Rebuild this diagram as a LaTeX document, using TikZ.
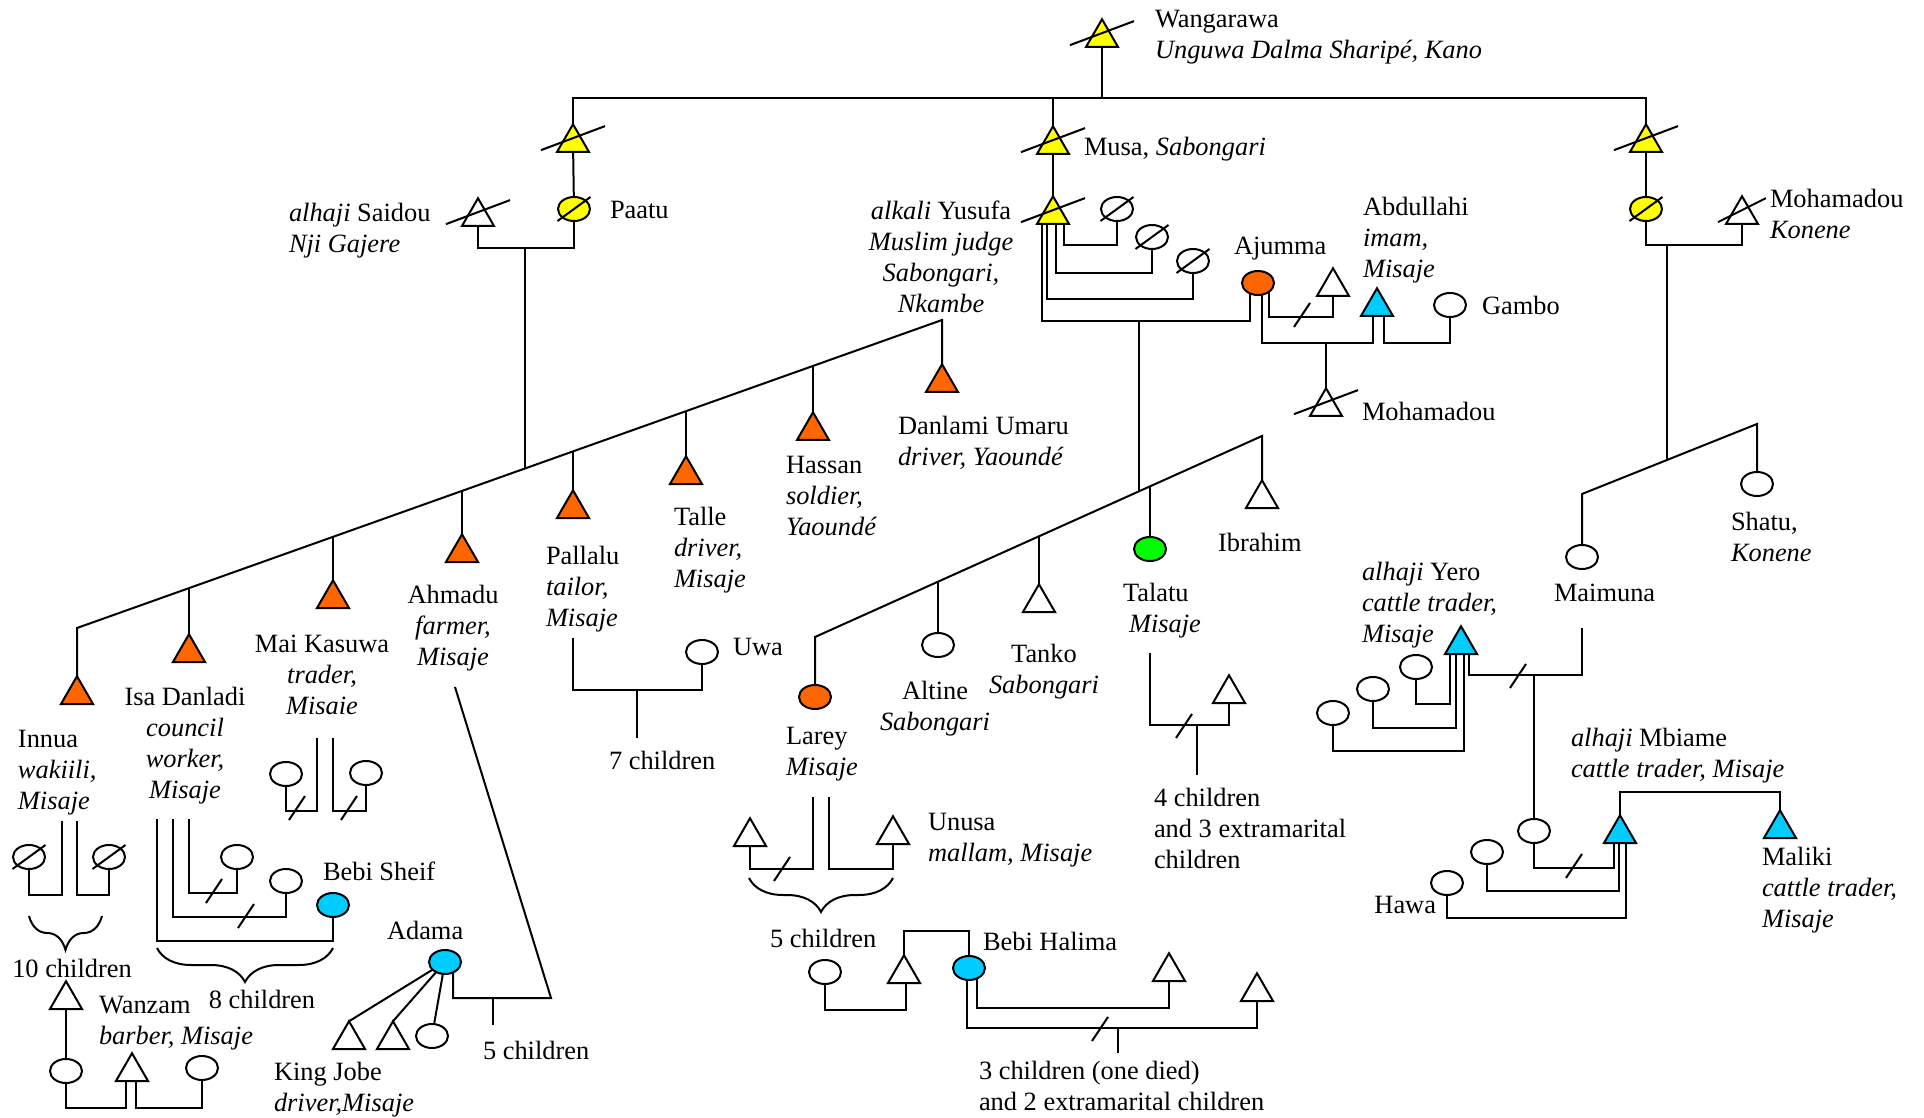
\documentclass[tikz,border=0pt]{standalone}
\usepackage{fontspec}
\setmainfont{Liberation Serif}
\usetikzlibrary{shapes.geometric,calc,backgrounds,decorations.pathreplacing}
\definecolor{yel}{HTML}{FFFF00}
\definecolor{org}{HTML}{FF6600}
\definecolor{blu}{HTML}{00CCFF}
\definecolor{grn}{HTML}{00FF00}
\newcommand{\dtri}[2][32]{\draw ($(#2.corner 1)!0.5!(#2.side 2)$) ++(-#1,12) -- ++(2*#1,-24);}
\newcommand{\dell}[1]{\draw (#1.center) ++(-16.5,12) -- ++(33,-24);}
\newcommand{\dvm}[1]{\draw (#1) ++(-8,12) -- ++(16,-24);}
\begin{document}
\begin{tikzpicture}[x=0.5pt, y=-0.5pt, line width=1pt,
 tri/.style={regular polygon, regular polygon sides=3, draw, fill=white, minimum size=18.5pt, inner sep=0pt, outer sep=0pt, anchor=side 2},
 ell/.style={ellipse, draw, fill=white, minimum width=16pt, minimum height=12pt, inner sep=0pt, outer sep=0pt},
 lbl/.style={anchor=north west, yshift=4.9pt, inner sep=0pt, align=left, font=\fontsize{13.2}{15.5}\selectfont, execute at begin node=\strut},
 lblc/.style={lbl, anchor=north, align=center},
 lblr/.style={lbl, anchor=north east, align=right},
 brc/.style={decorate, decoration={brace, mirror, amplitude=17pt}}]
\useasboundingbox (0,0) rectangle (1924,1118);
% ---------- males ----------
\node[tri, fill=yel] (wang) at (1102,47) {};
\node[tri, fill=yel] (sonL) at (573,152) {};
\node[tri, fill=yel] (musa) at (1053,154) {};
\node[tri, fill=yel] (sonR) at (1646,152) {};
\node[tri] (saidou) at (478,226) {};
\node[tri, fill=yel] (yusufa) at (1053,224) {};
\node[tri] (ajH) at (1333,296) {};
\node[tri, fill=blu] (abdul) at (1377,316) {};
\node[tri] (mohA) at (1326,416) {};
\node[tri] (mkon) at (1742,224) {};
\node[tri, fill=org] (innua) at (77,704) {};
\node[tri, fill=org] (isa) at (189,662) {};
\node[tri, fill=org] (maik) at (333,608) {};
\node[tri, fill=org] (ahmadu) at (462,562) {};
\node[tri, fill=org] (pallalu) at (573,518) {};
\node[tri, fill=org] (talle) at (686,484) {};
\node[tri, fill=org] (hassan) at (813,440) {};
\node[tri, fill=org] (danlami) at (942,392) {};
\node[tri] (tanko) at (1039,612) {};
\node[tri] (ibrahim) at (1262,508) {};
\node[tri] (talH) at (1229,703) {};
\node[tri] (lareyH) at (750,846) {};
\node[tri] (unusa) at (893,844) {};
\node[tri] (halF) at (904,983) {};
\node[tri] (halH1) at (1169,981) {};
\node[tri] (halH2) at (1257,1001) {};
\node[tri, fill=blu] (yero) at (1461,654) {};
\node[tri, fill=blu] (mbiame) at (1620,843) {};
\node[tri, fill=blu] (maliki) at (1780,838) {};
\node[tri] (wanzam) at (66,1009) {};
\node[tri] (wanzF) at (132,1081) {};
\node[tri] (jobe) at (349,1049) {};
\node[tri] (adS2) at (393,1049) {};
% ---------- females ----------
\node[ell, fill=yel] (paatu) at (574,209) {};
\node[ell] (yw1) at (1117,209) {};
\node[ell] (yw2) at (1152,237) {};
\node[ell] (yw3) at (1193,261) {};
\node[ell, fill=org] (ajumma) at (1258,283) {};
\node[ell] (gambo) at (1450,305) {};
\node[ell, fill=yel] (konF) at (1646,209) {};
\node[ell] (maimuna) at (1582,557) {};
\node[ell] (shatu) at (1757,484) {};
\node[ell, fill=org] (larey) at (815,697) {};
\node[ell] (altine) at (938,645) {};
\node[ell, fill=grn] (talatu) at (1150,549) {};
\node[ell] (uwa) at (702,652) {};
\node[ell] (inW1) at (29,857) {};
\node[ell] (inW2) at (109,857) {};
\node[ell] (mkW1) at (286,774) {};
\node[ell] (mkW2) at (366,773) {};
\node[ell] (isW1) at (237,857) {};
\node[ell] (isW2) at (286,881) {};
\node[ell, fill=blu] (bebiS) at (333,905) {};
\node[ell, fill=blu] (adama) at (445,962) {};
\node[ell] (adD) at (432,1036) {};
\node[ell] (wzL) at (66,1071) {};
\node[ell] (wzR) at (202,1068) {};
\node[ell] (halL) at (825,972) {};
\node[ell, fill=blu] (bebiH) at (969,968) {};
\node[ell] (yW1) at (1416,667) {};
\node[ell] (yW2) at (1373,689) {};
\node[ell] (yW3) at (1333,713) {};
\node[ell] (mbW1) at (1534,831) {};
\node[ell] (mbW2) at (1487,852) {};
\node[ell] (hawa) at (1447,883) {};
% ---------- connectors ----------
\begin{scope}[on background layer]
\begin{scope}[line width=1pt]
\draw (wang.center) -- (1102,98);
\draw (sonL.center) -- (573,98) -- (1646,98) -- (sonR.center);
\draw (musa.center) -- (1053,98);
\draw (sonL.center) -- (paatu.center);
\draw (paatu.center) -- (574,248) -| (saidou.center);
\draw (525,248) -- (525,468.5);
\draw (innua.center) -- (77,628) -- (942,320) -- (danlami.center);
\draw (isa.center) -- (189,588.1);
\draw (maik.center) -- (333,536.8);
\draw (ahmadu.center) -- (462,490.9);
\draw (pallalu.center) -- (573,451.4);
\draw (talle.center) -- (686,411.1);
\draw (hassan.center) -- (813,365.9);
\draw (musa.center) -- (yusufa.center);
\draw (1064,220) -- (1064,245) -| (yw1.center);
\draw (1056,220) -- (1056,273) -| (yw2.center);
\draw (1047,220) -- (1047,299) -| (yw3.center);
\draw (1042,220) -- (1042,321) -| (1250,283);
\draw (1139,321) -- (1139,491);
\draw (1269,283) -- (1269,317) -| (ajH.center);
\draw (1262,283) -- (1262,343) -| (1373,310);
\draw (1384,310) -- (1384,343) -| (gambo.center);
\draw (1326,343) -- (mohA.center);
\draw (larey.center) -- (815,637) -- (1262,436) -- (ibrahim.center);
\draw (938,581.7) -- (altine.center);
\draw (1039,536.3) -- (tanko.center);
\draw (1150,486.4) -- (talatu.center);
\draw (sonR.center) -- (konF.center);
\draw (konF.center) -- (1646,245) -| (mkon.center);
\draw (1667,245) -- (1667,460);
\draw (maimuna.center) -- (1582,494) -- (1757,424) -- (shatu.center);
\draw (1582,628) -- (1582,675) -| (1469,648);
\draw (1534,675) -- (mbW1.center);
\draw (yW1.center) |- (1450,704) -- (1450,648);
\draw (yW2.center) |- (1456,728) -- (1456,648);
\draw (yW3.center) |- (1464,751) -- (1464,648);
\draw (mbW1.center) |- (1614,868) -- (1614,838);
\draw (mbW2.center) |- (1619,891) -- (1619,838);
\draw (hawa.center) |- (1626,918) -- (1626,838);
\draw (mbiame.center) -- (1620,792) -| (maliki.center);
\draw (573,638) -- (573,690) -| (uwa.center);
\draw (637,690) -- (637,738);
\draw (455,687) -- (551,998) -- (453,998) -- (453,962);
\draw (493,998) -- (493,1025);
\draw (adama.center) -- (jobe.corner 1);
\draw (adama.center) -- (adS2.corner 1);
\draw (adama.center) -- (adD.center);
\draw (317,738) -- (317,811) -| (mkW1.center);
\draw (333,738) -- (333,811) -| (mkW2.center);
\draw (62,821) -- (62,895) -| (inW1.center);
\draw (77,821) -- (77,895) -| (inW2.center);
\draw (189,819) -- (189,893) -| (isW1.center);
\draw (173,819) -- (173,917) -| (isW2.center);
\draw (157,819) -- (157,941) -| (bebiS.center);
\draw (wanzam.center) -- (wzL.center);
\draw (wzL.center) |- (126,1108) -- (126,1075);
\draw (136,1075) -- (136,1108) -| (wzR.center);
\draw (1150,653) -- (1150,725) -| (talH.center);
\draw (1197,725) -- (1197,775);
\draw (813,797) -- (813,869) -| (lareyH.center);
\draw (829,797) -- (829,869) -| (unusa.center);
\draw (halL.center) |- (906,1010) -- (906,975);
\draw (halF.center) -- (904,931) -| (bebiH.center);
\draw (977,968) -- (977,1008) -| (halH1.center);
\draw (967,968) -- (967,1028) -| (halH2.center);
\draw (1118,1028) -- (1118,1053);
\end{scope}
\end{scope}
% braces
\draw[brc] (29,916) -- (102,916);
\draw[brc] (157,948) -- (333,948);
\draw[brc] (749,878) -- (893,878);
% deceased strokes
\dtri{wang} \dtri{sonL} \dtri{musa} \dtri{sonR} \dtri{saidou} \dtri{yusufa} \dtri{mohA} \dtri[24]{mkon}
\dell{paatu} \dell{konF} \dell{yw1} \dell{yw2} \dell{yw3} \dell{inW1} \dell{inW2}
% divorce marks
\dvm{1302,315} \dvm{297,808} \dvm{349,808} \dvm{214,891} \dvm{246,916}
\dvm{1184,726} \dvm{782,869} \dvm{1100,1029} \dvm{1518,676} \dvm{1574,866}
% ---------- labels ----------
\node[lbl] (tWang) at (1154,19) {Wangarawa\\\textit{Unguwa Dalma Sharipé, Kano}};
\node[lbl] (tMusa) at (1083,143) {Musa, \textit{Sabongari}};
\node[lbl] (tSaid) at (288,212) {\textit{alhaji} Saidou\\\textit{Nji Gajere}};
\node[lbl] (tPaatu) at (609,206) {Paatu};
\node[lblc] (tYus) at (941,210) {\textit{alkali} Yusufa\\\textit{Muslim judge}\\\textit{Sabongari,}\\\textit{Nkambe}};
\node[lbl] (tAj) at (1233,242) {Ajumma};
\node[lbl] (tAbd) at (1362,206) {Abdullahi\\\textit{imam,}\\\textit{Misaje}};
\node[lbl] (tGam) at (1481,302) {Gambo};
\node[lbl] (tMohA) at (1361,408) {Mohamadou};
\node[lbl] (tMkon) at (1769,198) {Mohamadou\\\textit{Konene}};
\node[lbl] (tDan) at (897,425) {Danlami Umaru\\\textit{driver, Yaoundé}};
\node[lbl] (tHas) at (785,465) {Hassan\\\textit{soldier,}\\\textit{Yaoundé}};
\node[lbl] (tTal) at (673,516) {Talle\\\textit{driver,}\\\textit{Misaje}};
\node[lbl] (tPal) at (545,555) {Pallalu\\\textit{tailor,}\\\textit{Misaje}};
\node[lblc] (tAhm) at (453,594) {Ahmadu\\\textit{farmer,}\\\textit{Misaje}};
\node[lblc] (tMk) at (322,644) {Mai Kasuwa\\\textit{trader,}\\\textit{Misaie}};
\node[lblc] (tIsa) at (185,696) {Isa Danladi\\\textit{council}\\\textit{worker,}\\\textit{Misaje}};
\node[lbl] (tInn) at (17,739) {Innua\\\textit{wakiili,}\\\textit{Misaje}};
\node[lblc] (t10) at (72,965) {10 children};
\node[lblc] (t8) at (262,996) {8 children};
\node[lbl] (tBS) at (322,868) {Bebi Sheif};
\node[lbl] (tAda) at (386,927) {Adama};
\node[lbl] (tJobe) at (273,1071) {King Jobe\\\textit{driver,Misaje}};
\node[lbl] (tWz) at (98,1005) {Wanzam\\\textit{barber, Misaje}};
\node[lbl] (t5a) at (482,1047) {5 children};
\node[lbl] (tUwa) at (732,643) {Uwa};
\node[lbl] (t7) at (608,757) {7 children};
\node[lbl] (tLar) at (785,736) {Larey\\\textit{Misaje}};
\node[lblc] (tAlt) at (935,690) {Altine\\\textit{Sabongari}};
\node[lblc] (tTan) at (1044,653) {Tanko\\\textit{Sabongari}};
\node[lbl] (tTala) at (1122,592) {Talatu\\\hspace{3pt}\textit{Misaje}};
\node[lbl] (tIbr) at (1217,539) {Ibrahim};
\node[lbl] (t4) at (1153,797) {4 children\\and 3 extramarital\\children};
\node[lbl] (tUnu) at (927,822) {Unusa\\\textit{mallam, Misaje}};
\node[lbl] (t5b) at (769,935) {5 children};
\node[lbl] (tBH) at (982,938) {Bebi Halima};
\node[lbl] (t3) at (978,1070) {3 children (one died)\\and 2 extramarital children};
\node[lbl] (tMai) at (1553,589) {Maimuna};
\node[lbl] (tSha) at (1730,521) {Shatu,\\\textit{Konene}};
\node[lbl] (tYero) at (1361,571) {\textit{alhaji} Yero\\\textit{cattle trader,}\\\textit{Misaje}};
\node[lbl] (tMb) at (1570,737) {\textit{alhaji} Mbiame\\\textit{cattle trader, Misaje}};
\node[lbl] (tMal) at (1761,856) {Maliki\\\textit{cattle trader,}\\\textit{Misaje}};
\node[lblr] (tHawa) at (1437,901) {Hawa};
\end{tikzpicture}
\end{document}
